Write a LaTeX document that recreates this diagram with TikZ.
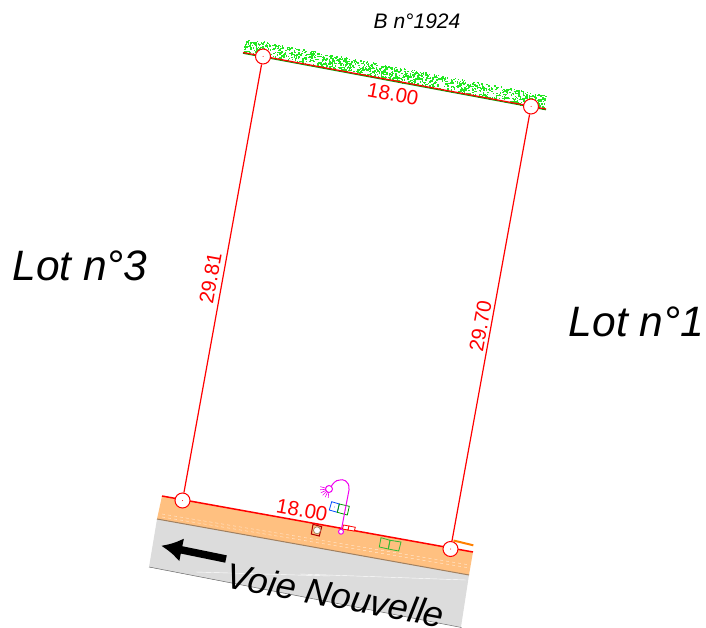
\documentclass[tikz,border=0pt]{standalone}
\usepackage{fontspec}
\setmainfont{Liberation Sans}
\usetikzlibrary{arrows.meta}
\definecolor{roadorange}{HTML}{FFC080}
\definecolor{roadgrey}{HTML}{DCDCDC}
\definecolor{kerb}{HTML}{A08060}
\definecolor{lampmag}{HTML}{F000F0}
\definecolor{hedge}{HTML}{22E822}
\tikzstyle{corner} = [circle, draw=red, fill=white, line width=1pt, inner sep=0pt, minimum size=15pt]
\tikzstyle{side}   = [draw=red, line width=1.2pt]
\tikzstyle{dim}    = [text=red, font=\fontsize{20.5}{20.5}\selectfont, inner sep=0pt]
\tikzstyle{lot}    = [font=\itshape\fontsize{42.5}{42.5}\selectfont, inner sep=0pt]
\tikzstyle{pit}    = [line width=0.8pt]

\begin{document}
\begin{tikzpicture}[x=1pt, y=-1pt]
    \useasboundingbox (0,0) rectangle (706,628);

    % chaussee
    \fill [roadgrey] (157,519) -- (469,575) -- (461,627) -- (149,567) -- cycle;
    \draw [white, line width=0.4pt] (196,572) -- (330,576);
    \draw [white, line width=0.4pt] (300,574) -- (466,580);
    \draw [black!60, line width=0.5pt] (149,567) -- (461.5,627.5);

    % trottoir
    \fill [roadorange] (162,496) -- (473,552) -- (469,575) -- (157,519) -- cycle;
    \draw [white, dashed, line width=0.4pt, opacity=.7] (162,514) -- (470,565);
    \draw [white, dashed, line width=0.4pt, opacity=.7] (162,517) -- (470,568);
    \draw [kerb, line width=1pt] (157,519) -- (469,575);

    % haie
    \pgfmathsetseed{1924}
    \foreach \i in {1,...,1300} {
        \pgfmathsetmacro{\ru}{rnd}
        \pgfmathsetmacro{\rv}{rnd}
        \fill [hedge] ({246+300*\ru-3*\rv},{38+57*\ru+14*\rv}) rectangle +(1.4,1.4);
    }

    % limites avant et arriere
    \coordinate (ntop1) at (243,52.5);
    \coordinate (ntop2) at (546,109);
    \coordinate (nbot1) at (162,496);
    \coordinate (nbot2) at (473,552);
    \draw [green!60!black, line width=1pt] ([yshift=-0.8pt]ntop1) -- ([yshift=-0.8pt]ntop2);
    \draw [side] (ntop1) -- (ntop2);
    \draw [side, line width=1.5pt] (nbot1) -- (nbot2);

    % bornes
    \node [corner] (nw) at (263,56.5) {};
    \node [corner] (ne) at (531,106.5) {};
    \node [corner] (sw) at (182.5,500.5) {};
    \node [corner] (se) at (450.5,549) {};
    \foreach \p in {nw,ne,sw,se}
        \fill [red] (\p) circle (0.5pt);

    % cotes laterales
    \draw [side] (nw) -- (sw);
    \draw [side] (ne) -- (se);

    % textes
    \node [font=\itshape\fontsize{21}{21}\selectfont, inner sep=0pt] (parcel) at (417,21.5) {B n°1924};
    \node [dim, rotate=-10.6] (dimtop) at (393,94) {18.00};
    \node [dim, rotate=-10.6] (dimbot) at (302,510) {18.00};
    \node [dim, rotate=79.7] (dimleft) at (210.5,278) {29.81};
    \node [dim, rotate=79.7] (dimright) at (480.5,326) {29.70};
    \node [lot] (lot3) at (80,266) {Lot n°3};
    \node [lot] (lot1) at (636.5,322) {Lot n°1};
    \node [font=\itshape\fontsize{36}{36}\selectfont, inner sep=0pt, rotate=-10.6] (voie) at (335.5,595) {Voie Nouvelle};

    % sens de circulation
    \coordinate (flow1) at (226,559);
    \coordinate (flow2) at (161,545.7);
    \draw [-{Latex[length=21pt,width=24pt]}, line width=7.5pt, black] (flow1) -- (flow2);

    % coffrets et regards
    \draw [blue!70!cyan, pit] (331.7,501.7) -- (339.3,504) -- (337.3,512.3) -- (329.3,510) -- cycle;
    \draw [green!60!black, pit] (339.3,504) -- (349.3,506.3) -- (347.3,515) -- (337.3,512.3) -- cycle;
    \fill [blue!70!cyan] (334.5,507) circle (0.4pt);
    \fill [green!60!black] (345,510) circle (0.4pt);
    \draw [red!70!black, line width=1pt, fill=roadorange] (313,524.3) -- (321.7,526.7) -- (319.3,536) -- (311.3,534) -- cycle;
    \draw [kerb, fill=white, line width=0.7pt] (317,530.3) circle (3.5pt);
    \draw [red, pit, fill=white] (343.5,525) -- (349,526) -- (348,530) -- (342.5,529) -- cycle;
    \draw [red, pit, fill=white] (349,526) -- (355.3,527.3) -- (354.3,531) -- (348,530) -- cycle;
    \draw [green!65!black!80, pit] (381,537.7) -- (390,540.3) -- (388.3,549) -- (379.3,547) -- cycle;
    \draw [green!65!black!80, pit] (390,540.3) -- (401,542) -- (398.7,551) -- (388.3,549) -- cycle;
    \draw [orange, line width=2pt] (453.5,540.5) -- (473.3,545.3);

    % candelabre
    \node [circle, draw=lampmag, fill=white, line width=1pt, inner sep=0pt, minimum size=5pt] (lampfoot) at (341,531.7) {};
    \node [circle, draw=lampmag, fill=white, line width=1pt, inner sep=0pt, minimum size=7pt] (lamphead) at (329,489) {};
    \draw [lampmag, line width=1pt] (lampfoot) -- (349,490) .. controls (350,480) and (342,479) .. (340,480) .. controls (335,480) and (333,484) .. (lamphead);
    \foreach \a in {165,185,205,225,245,265}
        \draw [lampmag, line width=0.6pt] (lamphead) ++(-\a:3.5) -- ++(-\a:5.5);
\end{tikzpicture}
\end{document}
